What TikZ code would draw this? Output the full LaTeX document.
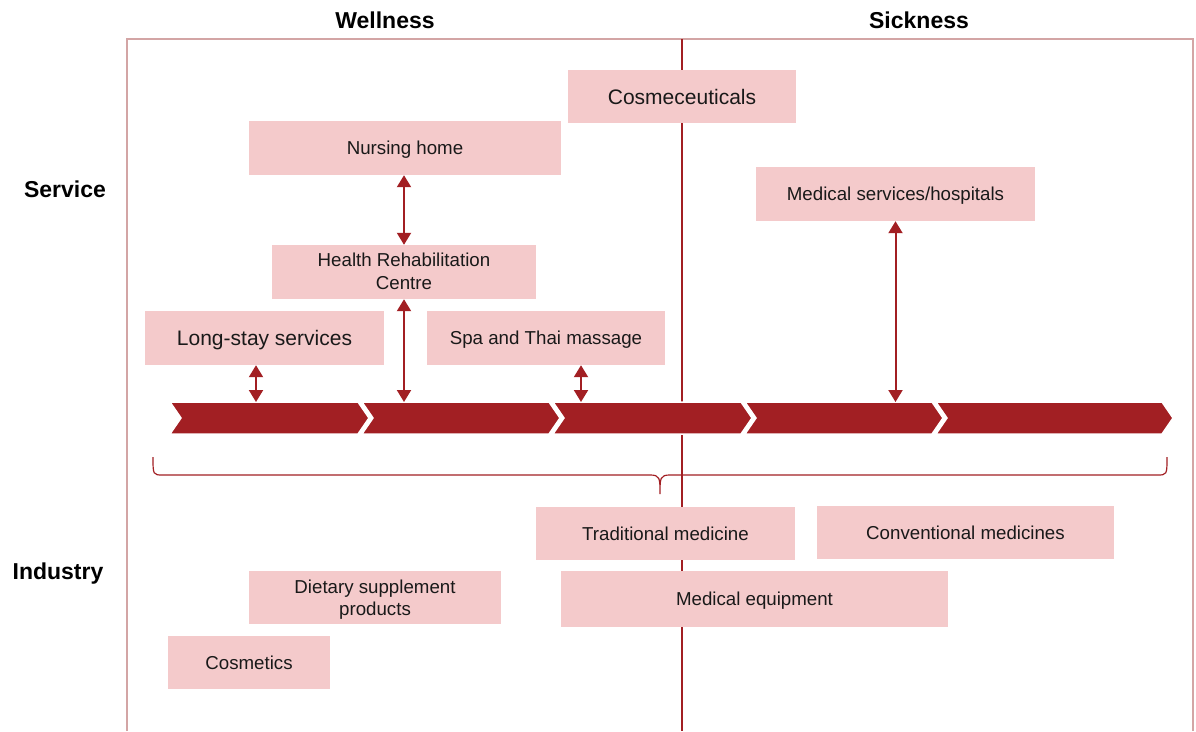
\documentclass[tikz,border=0pt]{standalone}
\usepackage{fontspec}
\setmainfont{Liberation Sans}
\usetikzlibrary{arrows.meta}
\definecolor{dred}{HTML}{A21F23}
\definecolor{pinkbox}{HTML}{F4CACB}
\definecolor{framec}{HTML}{D3A5A5}
\newcommand\twolines[3]{\raisebox{#1}{\smash{\begin{tabular}[t]{@{}c@{}}#2\\[-0.5pt]#3\end{tabular}}}}
\begin{document}
\begin{tikzpicture}[x=1pt,y=-1pt,
  box/.style={fill=pinkbox, inner sep=0pt, text=black!90, font=\fontsize{18.7}{23}\selectfont, text height=13.4pt, text depth=0pt},
  bigbox/.style={box, font=\fontsize{21}{25}\selectfont, text height=15pt},
  head/.style={font=\bfseries\fontsize{23}{27}\selectfont, inner sep=0pt},
  dbl/.style={draw=dred, line width=2pt, {Triangle[width=14pt,length=12pt]}-{Triangle[width=14pt,length=12pt]}},
  chev/.style={fill=dred, draw=white, line width=1.5pt, line join=miter}]

\useasboundingbox (0,0) rectangle (1196,731);

% frame and divider
\draw[framec, line width=1.5pt] (127,731) -- (127,39) -- (1193,39) -- (1193,731);
\draw[dred, line width=2pt] (682,39) -- (682,731);

% headers
\node[head] (wellness) at (385,20) {Wellness};
\node[head] (sickness) at (919,20) {Sickness};
\node[head] (service) at (65,189) {Service};
\node[head] (industry) at (58,574) {Industry};

% chevrons
\path[chev] (170,402) -- (358,402) -- (369,418) -- (358,434) -- (170,434) -- (181,418) -- cycle;
\path[chev] (362,402) -- (549,402) -- (560,418) -- (549,434) -- (362,434) -- (373,418) -- cycle;
\path[chev] (553,402) -- (741,402) -- (752,418) -- (741,434) -- (553,434) -- (564,418) -- cycle;
\path[chev] (745,402) -- (932,402) -- (943,418) -- (932,434) -- (745,434) -- (756,418) -- cycle;
\path[chev] (936,402) -- (1162,402) -- (1173,418) -- (1162,434) -- (936,434) -- (947,418) -- cycle;
\coordinate (chevtop) at (0,402);

% brace
\draw[dred, line width=1.2pt] (153,457) .. controls (153,475) and (153,475) .. (163,475)
  -- (650,475) .. controls (660,475) and (660,478) .. (660,494)
  .. controls (660,478) and (660,475) .. (670,475)
  -- (1157,475) .. controls (1167,475) and (1167,475) .. (1167,457);

% service boxes
\node[bigbox, minimum width=228pt, minimum height=53pt] (cosm) at (682,96.5) {Cosmeceuticals};
\node[box, minimum width=312pt, minimum height=54pt] (nursing) at (405,148) {Nursing home};
\node[box, minimum width=279pt, minimum height=54pt] (medsvc) at (895.5,194) {Medical services/hospitals};
\node[box, minimum width=264pt, minimum height=54pt] (rehab) at (404,272) {\twolines{12pt}{Health Rehabilitation}{Centre}};
\node[bigbox, minimum width=239pt, minimum height=54pt] (longstay) at (264.5,338) {Long-stay services};
\node[box, minimum width=238pt, minimum height=54pt] (spa) at (546,338) {Spa and Thai massage};

% industry boxes
\node[box, minimum width=259pt, minimum height=53pt] (tradmed) at (665.5,533.5) {Traditional medicine};
\node[box, minimum width=297pt, minimum height=53pt] (convmed) at (965.5,532.5) {Conventional medicines};
\node[box, minimum width=387pt, minimum height=56pt] (medeq) at (754.5,599) {Medical equipment};
\node[box, minimum width=252pt, minimum height=53pt] (dietary) at (375,597.5) {\twolines{11pt}{Dietary supplement}{products}};
\node[box, minimum width=162pt, minimum height=53pt] (cosmetics) at (249,662.5) {Cosmetics};

% arrows
\draw[dbl] (nursing.south -| rehab.north) -- (rehab.north);
\draw[dbl] (rehab.south) -- (rehab.south |- chevtop);
\draw[dbl] ([xshift=-8.5pt]longstay.south) -- ([xshift=-8.5pt]longstay.south |- chevtop);
\draw[dbl] ([xshift=35pt]spa.south) -- ([xshift=35pt]spa.south |- chevtop);
\draw[dbl] (medsvc.south) -- (medsvc.south |- chevtop);
\end{tikzpicture}
\end{document}
